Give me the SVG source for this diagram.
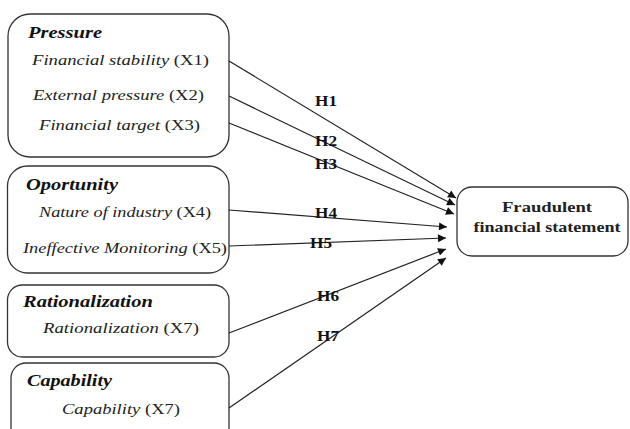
<svg xmlns="http://www.w3.org/2000/svg" width="630" height="429" viewBox="0 0 630 429">
<defs>
<marker id="arr" viewBox="0 0 10 10" refX="10" refY="5" markerWidth="10" markerHeight="8" markerUnits="userSpaceOnUse" orient="auto">
<path d="M0,0 L10,5 L0,10 z" fill="#111"/>
</marker>
<style>
.box{fill:#fff;stroke:#333;stroke-width:1.3}
text{font-family:'Liberation Serif','Times New Roman','DejaVu Serif',serif}
.hd{font-weight:bold;font-style:italic;font-size:16px;fill:#111}
.it{font-size:15px;fill:#222}
.i{font-style:italic}
.lbl{font-weight:bold;font-size:15px;fill:#111}
.tg{font-weight:bold;font-size:15px;fill:#222;text-anchor:middle}
.cn{stroke:#222;stroke-width:1.2;fill:none;marker-end:url(#arr)}
</style>
</defs>
<rect width="630" height="429" fill="#fff"/>
<g id="pressure">
<rect class="box" x="8" y="14" width="221" height="143" rx="22"/>
<text class="hd" x="28" y="38" textLength="74" lengthAdjust="spacingAndGlyphs">Pressure</text>
<text class="it" x="32" y="65" textLength="177" lengthAdjust="spacingAndGlyphs"><tspan class="i">Financial stability</tspan> (X1)</text>
<text class="it" x="33" y="100" textLength="171" lengthAdjust="spacingAndGlyphs"><tspan class="i">External pressure</tspan> (X2)</text>
<text class="it" x="39" y="130" textLength="161" lengthAdjust="spacingAndGlyphs"><tspan class="i">Financial target</tspan> (X3)</text>
</g>
<g id="opportunity">
<rect class="box" x="7.5" y="166" width="221.5" height="107" rx="20"/>
<text class="hd" x="26" y="190" textLength="92" lengthAdjust="spacingAndGlyphs">Oportunity</text>
<text class="it" x="39" y="217" textLength="172" lengthAdjust="spacingAndGlyphs"><tspan class="i">Nature of industry</tspan> (X4)</text>
<text class="it" x="23" y="253" textLength="204" lengthAdjust="spacingAndGlyphs"><tspan class="i">Ineffective Monitoring</tspan> (X5)</text>
</g>
<g id="rationalization">
<rect class="box" x="7.5" y="285" width="221.5" height="72" rx="15"/>
<text class="hd" x="23" y="307" textLength="130" lengthAdjust="spacingAndGlyphs">Rationalization</text>
<text class="it" x="43" y="333" textLength="156" lengthAdjust="spacingAndGlyphs"><tspan class="i">Rationalization</tspan> (X7)</text>
</g>
<g id="capability">
<rect class="box" x="11" y="363" width="218" height="85" rx="15"/>
<text class="hd" x="27" y="386" textLength="85" lengthAdjust="spacingAndGlyphs">Capability</text>
<text class="it" x="62" y="414" textLength="118" lengthAdjust="spacingAndGlyphs"><tspan class="i">Capability</tspan> (X7)</text>
</g>
<g id="fraud">
<rect class="box" x="457" y="187" width="171" height="69" rx="15"/>
<text class="tg" x="547" y="212" textLength="90" lengthAdjust="spacingAndGlyphs">Fraudulent</text>
<text class="tg" x="547" y="232" textLength="147" lengthAdjust="spacingAndGlyphs">financial statement</text>
</g>
<g id="connectors">
<line class="cn" x1="229" y1="61" x2="456" y2="198"/>
<line class="cn" x1="229" y1="96" x2="455" y2="205"/>
<line class="cn" x1="229" y1="123" x2="454" y2="214"/>
<line class="cn" x1="229" y1="210" x2="447" y2="227"/>
<line class="cn" x1="229" y1="246" x2="446" y2="238"/>
<line class="cn" x1="229" y1="333" x2="446" y2="249"/>
<line class="cn" x1="229" y1="408" x2="446" y2="258"/>
<text class="lbl" x="315" y="106" textLength="22" lengthAdjust="spacingAndGlyphs">H1</text>
<text class="lbl" x="315" y="146" textLength="22" lengthAdjust="spacingAndGlyphs">H2</text>
<text class="lbl" x="315" y="169" textLength="22" lengthAdjust="spacingAndGlyphs">H3</text>
<text class="lbl" x="315" y="218" textLength="22" lengthAdjust="spacingAndGlyphs">H4</text>
<text class="lbl" x="310" y="248" textLength="22" lengthAdjust="spacingAndGlyphs">H5</text>
<text class="lbl" x="317" y="301" textLength="22" lengthAdjust="spacingAndGlyphs">H6</text>
<text class="lbl" x="317" y="341" textLength="22" lengthAdjust="spacingAndGlyphs">H7</text>
</g>
</svg>
